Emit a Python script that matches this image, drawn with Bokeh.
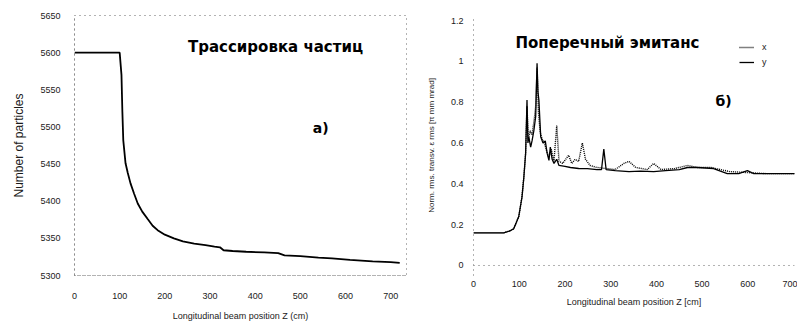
from bokeh.plotting import figure
from bokeh.layouts import row
from bokeh.models import (Label, Legend, LegendItem, FixedTicker,
                          NumeralTickFormatter, Span)
from bokeh.embed import file_html
from bokeh.resources import INLINE

# ---------------- data: panel a) particle tracking ----------------
z_a = [0, 50, 100, 104, 106, 108, 113, 118, 124, 132, 140, 150, 162, 173, 184,
       200, 220, 240, 265, 290, 310, 322, 330, 350, 380, 420, 451, 465, 500,
       540, 570, 610, 660, 700, 720]
n_a = [5600, 5600, 5600, 5570, 5520, 5482, 5451, 5438, 5424, 5410, 5397, 5386,
       5376, 5367, 5361, 5355, 5350, 5346, 5343, 5341, 5339, 5338, 5334, 5333,
       5332, 5331, 5330, 5327, 5326, 5324, 5323, 5321, 5319, 5318, 5317]
x_ticks_a = [0, 100, 200, 300, 400, 500, 600, 700]
y_ticks_a = [5300, 5350, 5400, 5450, 5500, 5550, 5600, 5650]

# ---------------- data: panel б) transverse emittance ----------------
z_y = [0, 30, 66, 80, 88, 99, 106, 110, 114, 117, 119, 121, 125, 128, 132, 136,
       139, 141, 143, 147, 152, 157, 161, 165, 168, 172, 176, 182, 187, 200,
       212, 230, 249, 270, 280, 285, 290, 310, 340, 365, 394, 420, 450, 468,
       490, 525, 555, 580, 599, 613, 650, 680, 710]
e_y = [0.16, 0.16, 0.16, 0.17, 0.18, 0.24, 0.335, 0.43, 0.55, 0.81, 0.60, 0.63,
       0.58, 0.61, 0.66, 0.73, 0.99, 0.85, 0.81, 0.63, 0.60, 0.61, 0.55, 0.515,
       0.58, 0.52, 0.50, 0.52, 0.49, 0.485, 0.48, 0.475, 0.474, 0.47, 0.47,
       0.57, 0.47, 0.465, 0.46, 0.462, 0.46, 0.465, 0.47, 0.48, 0.48, 0.475,
       0.45, 0.45, 0.465, 0.45, 0.45, 0.45, 0.45]
z_x = [0, 30, 66, 80, 88, 99, 106, 110, 114, 117, 120, 124, 128, 133, 136, 139,
       142, 146, 150, 155, 160, 165, 170, 176, 182, 187, 195, 208, 215, 222,
       230, 238, 245, 255, 270, 290, 310, 329, 340, 355, 380, 394, 410, 440,
       468, 490, 520, 560, 600, 640, 680, 710]
e_x = [0.16, 0.16, 0.16, 0.17, 0.18, 0.24, 0.335, 0.43, 0.55, 0.78, 0.62, 0.66,
       0.64, 0.72, 0.78, 0.97, 0.75, 0.65, 0.62, 0.60, 0.56, 0.53, 0.57, 0.51,
       0.686, 0.51, 0.50, 0.54, 0.50, 0.52, 0.51, 0.60, 0.52, 0.49, 0.48, 0.475,
       0.47, 0.50, 0.51, 0.48, 0.47, 0.50, 0.47, 0.475, 0.49, 0.48, 0.48, 0.46,
       0.455, 0.45, 0.45, 0.45]
x_ticks_b = [0, 100, 200, 300, 400, 500, 600, 700]
y_ticks_b = [0, 0.2, 0.4, 0.6, 0.8, 1.0, 1.2]

TICK_FONT = "Liberation Sans"
LABEL_FONT = "Liberation Sans"
TITLE_FONT = "DejaVu Sans"
INK = "#1a1a1a"
DOT = "#666666"


def style_axes(p):
    for ax in (p.xaxis, p.yaxis):
        ax.major_tick_line_color = None
        ax.minor_tick_line_color = None
        ax.major_tick_out = 0
        ax.major_tick_in = 0
        ax.minor_tick_out = 0
        ax.minor_tick_in = 0
        ax.major_label_text_font = TICK_FONT
        ax.major_label_text_font_size = "9px"
        ax.major_label_text_color = INK
        ax.axis_label_text_font = LABEL_FONT
        ax.axis_label_text_font_style = "normal"
        ax.axis_label_text_color = INK
    p.grid.grid_line_color = None
    p.background_fill_color = "white"
    p.border_fill_color = "white"


H = 324
# ---------------- panel a) ----------------
p1 = figure(width=408, height=H, x_range=(0, 735), y_range=(5300, 5650),
            output_backend="svg", toolbar_location=None,
            min_border_left=74, min_border_right=2, min_border_top=15,
            min_border_bottom=49)
style_axes(p1)
p1.line(z_a, n_a, line_color="black", line_width=1.8)
p1.xaxis.ticker = FixedTicker(ticks=x_ticks_a)
p1.yaxis.ticker = FixedTicker(ticks=y_ticks_a)
p1.xaxis.axis_label = "Longitudinal beam position Z (cm)"
p1.yaxis.axis_label = "Number of particles"
p1.xaxis.axis_label_text_font_size = "9px"
p1.yaxis.axis_label_text_font_size = "12px"
p1.xaxis.major_label_standoff = 17
p1.xaxis.axis_label_standoff = 9
p1.yaxis.major_label_standoff = 14
p1.yaxis.axis_label_standoff = 11
p1.axis.axis_line_color = DOT
p1.axis.axis_line_dash = "1 4"
p1.outline_line_color = DOT
p1.outline_line_dash = "1 4"
p1.add_layout(Label(x=445, y=5607, text="Трассировка частиц",
                    text_font=TITLE_FONT, text_font_style="bold",
                    text_font_size="15px", text_align="center",
                    text_baseline="middle", text_color="black"))
p1.add_layout(Label(x=545, y=5499, text="а)",
                    text_font=TITLE_FONT, text_font_style="bold",
                    text_font_size="14px", text_align="center",
                    text_baseline="middle", text_color="black"))

# ---------------- panel б) ----------------
p2 = figure(width=389, height=H, x_range=(0, 702), y_range=(-0.049, 1.2245),
            output_backend="svg", toolbar_location=None,
            min_border_left=65, min_border_right=3, min_border_top=15,
            min_border_bottom=49)
style_axes(p2)
rx = p2.line(z_x, e_x, line_color="black", line_width=1.4, line_dash="1 1")
ry = p2.line(z_y, e_y, line_color="black", line_width=1.3)
p2.xaxis.ticker = FixedTicker(ticks=x_ticks_b)
p2.yaxis.ticker = FixedTicker(ticks=y_ticks_b)
p2.yaxis.formatter = NumeralTickFormatter(format="0.[0]")
p2.xaxis.axis_label = "Longitudinal beam position Z [cm]"
p2.yaxis.axis_label = "Norm. rms. transv. ε rms [π mm mrad]"
p2.xaxis.axis_label_text_font_size = "9px"
p2.yaxis.axis_label_text_font_size = "8px"
p2.xaxis.major_label_standoff = 5
p2.xaxis.axis_label_standoff = 7
p2.yaxis.major_label_standoff = 10
p2.yaxis.axis_label_standoff = 12
p2.xaxis.axis_line_color = None
p2.yaxis.axis_line_color = DOT
p2.yaxis.axis_line_dash = "1 4"
p2.outline_line_color = None
p2.add_layout(Span(location=0, dimension="width", line_color=DOT,
                   line_dash="1 4", line_width=1))
p2.add_layout(Label(x=293, y=1.092, text="Поперечный эмитанс",
                    text_font=TITLE_FONT, text_font_style="bold",
                    text_font_size="15px", text_align="center",
                    text_baseline="middle", text_color="black"))
p2.add_layout(Label(x=547, y=0.808, text="б)",
                    text_font=TITLE_FONT, text_font_style="bold",
                    text_font_size="14px", text_align="center",
                    text_baseline="middle", text_color="black"))
legend = Legend(items=[LegendItem(label="x", renderers=[rx]),
                       LegendItem(label="y", renderers=[ry])],
                location=(266, 207), border_line_color=None,
                background_fill_alpha=0, padding=4, spacing=3,
                glyph_width=15, glyph_height=12, label_height=12,
                label_standoff=8, label_text_font=LABEL_FONT,
                label_text_font_size="9px", label_text_color=INK,
                margin=0)
p2.add_layout(legend)

layout = row(p1, p2)
open("out.html", "w").write(file_html(layout, INLINE))
